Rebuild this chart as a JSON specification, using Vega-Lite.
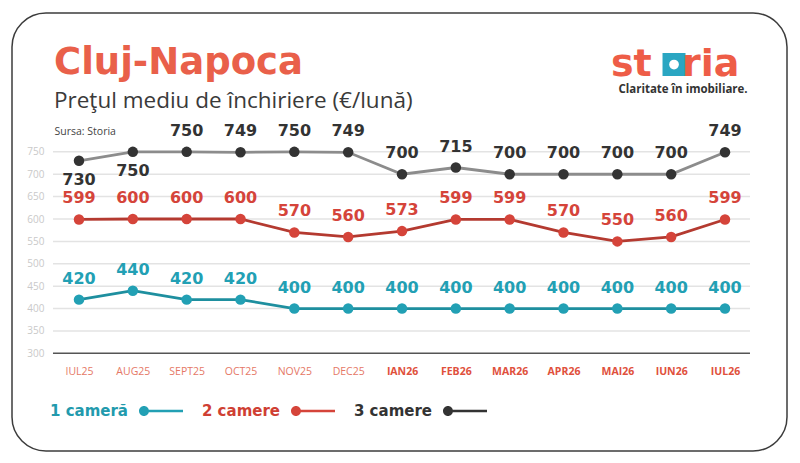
{
  "$schema": "https://vega.github.io/schema/vega-lite/v6.json",
  "width": 775,
  "height": 438,
  "autosize": {"type": "none"},
  "padding": {"left": 12, "top": 13, "right": 13, "bottom": 12},
  "background": "white",
  "title": {
    "text": "Cluj-Napoca",
    "subtitle": "Preţul mediu de închiriere (€/lună)",
    "anchor": "start",
    "frame": "group",
    "orient": "top",
    "offset": -100,
    "dx": 42,
    "font": "DejaVu Sans",
    "fontSize": 37,
    "fontWeight": "bold",
    "color": "#E9604A",
    "subtitleFont": "Open Sans",
    "subtitleFontSize": 22.5,
    "subtitleColor": "#3a3a3a",
    "subtitlePadding": 8
  },
  "datasets": {
    "prices": [
      {"luna": "IUL25", "serie": "1 cameră", "pret": 420},
      {"luna": "AUG25", "serie": "1 cameră", "pret": 440},
      {"luna": "SEPT25", "serie": "1 cameră", "pret": 420},
      {"luna": "OCT25", "serie": "1 cameră", "pret": 420},
      {"luna": "NOV25", "serie": "1 cameră", "pret": 400},
      {"luna": "DEC25", "serie": "1 cameră", "pret": 400},
      {"luna": "IAN26", "serie": "1 cameră", "pret": 400},
      {"luna": "FEB26", "serie": "1 cameră", "pret": 400},
      {"luna": "MAR26", "serie": "1 cameră", "pret": 400},
      {"luna": "APR26", "serie": "1 cameră", "pret": 400},
      {"luna": "MAI26", "serie": "1 cameră", "pret": 400},
      {"luna": "IUN26", "serie": "1 cameră", "pret": 400},
      {"luna": "IUL26", "serie": "1 cameră", "pret": 400},
      {"luna": "IUL25", "serie": "2 camere", "pret": 599},
      {"luna": "AUG25", "serie": "2 camere", "pret": 600},
      {"luna": "SEPT25", "serie": "2 camere", "pret": 600},
      {"luna": "OCT25", "serie": "2 camere", "pret": 600},
      {"luna": "NOV25", "serie": "2 camere", "pret": 570},
      {"luna": "DEC25", "serie": "2 camere", "pret": 560},
      {"luna": "IAN26", "serie": "2 camere", "pret": 573},
      {"luna": "FEB26", "serie": "2 camere", "pret": 599},
      {"luna": "MAR26", "serie": "2 camere", "pret": 599},
      {"luna": "APR26", "serie": "2 camere", "pret": 570},
      {"luna": "MAI26", "serie": "2 camere", "pret": 550},
      {"luna": "IUN26", "serie": "2 camere", "pret": 560},
      {"luna": "IUL26", "serie": "2 camere", "pret": 599},
      {"luna": "IUL25", "serie": "3 camere", "pret": 730},
      {"luna": "AUG25", "serie": "3 camere", "pret": 750},
      {"luna": "SEPT25", "serie": "3 camere", "pret": 750},
      {"luna": "OCT25", "serie": "3 camere", "pret": 749},
      {"luna": "NOV25", "serie": "3 camere", "pret": 750},
      {"luna": "DEC25", "serie": "3 camere", "pret": 749},
      {"luna": "IAN26", "serie": "3 camere", "pret": 700},
      {"luna": "FEB26", "serie": "3 camere", "pret": 715},
      {"luna": "MAR26", "serie": "3 camere", "pret": 700},
      {"luna": "APR26", "serie": "3 camere", "pret": 700},
      {"luna": "MAI26", "serie": "3 camere", "pret": 700},
      {"luna": "IUN26", "serie": "3 camere", "pret": 700},
      {"luna": "IUL26", "serie": "3 camere", "pret": 749}
    ],
    "grid": [
      {"v": 300}, {"v": 350}, {"v": 400}, {"v": 450}, {"v": 500},
      {"v": 550}, {"v": 600}, {"v": 650}, {"v": 700}, {"v": 750}
    ]
  },
  "layer": [
    {
      "layer": [
        {
          "data": {"name": "grid"},
          "mark": {"type": "rule", "strokeWidth": 1.5},
          "encoding": {
            "x": {"datum": 0, "type": "quantitative", "scale": {"domain": [-0.0588, 1.0531], "nice": false, "zero": false}, "axis": null},
            "x2": {"datum": 1},
            "y": {
              "field": "v",
              "type": "quantitative",
              "scale": {"domain": [82, 1060], "nice": false, "zero": false},
              "axis": {
                "values": [300, 350, 400, 450, 500, 550, 600, 650, 700, 750],
                "orient": "left",
                "offset": -38,
                "domain": false,
                "ticks": false,
                "grid": false,
                "labelColor": "#c9c9c9",
                "labelFontSize": 10,
                "labelPadding": 6,
                "labelFont": "Open Sans",
                "title": "Sursa: Storia",
                "titleAngle": 0,
                "titleAlign": "left",
                "titleBaseline": "middle",
                "titleX": 4,
                "titleY": 118,
                "titleFont": "Open Sans",
                "titleFontSize": 10.5,
                "titleFontWeight": "normal",
                "titleColor": "#444444"
              }
            },
            "color": {"condition": {"test": "datum.v === 300", "value": "#555555"}, "value": "#e3e3e3"}
          }
        },
        {
          "data": {"values": [{}]},
          "mark": {"type": "text", "text": "st", "align": "right", "baseline": "alphabetic", "font": "DejaVu Sans", "fontSize": 38, "fontWeight": "bold", "color": "#EE5D47"},
          "encoding": {
            "x": {"datum": 0.859, "type": "quantitative", "scale": {"domain": [-0.0588, 1.0531], "nice": false, "zero": false}, "axis": null},
            "y": {"datum": 919, "type": "quantitative"}
          }
        },
        {
          "data": {"values": [{}]},
          "mark": {"type": "point", "shape": "square", "filled": true, "size": 529, "color": "#2AA6C2", "opacity": 1},
          "encoding": {
            "x": {"datum": 0.891, "type": "quantitative", "scale": {"domain": [-0.0588, 1.0531], "nice": false, "zero": false}, "axis": null},
            "y": {"datum": 945, "type": "quantitative"}
          }
        },
        {
          "data": {"values": [{}]},
          "mark": {"type": "point", "shape": "circle", "filled": true, "size": 95, "color": "white", "opacity": 1},
          "encoding": {
            "x": {"datum": 0.891, "type": "quantitative", "scale": {"domain": [-0.0588, 1.0531], "nice": false, "zero": false}, "axis": null},
            "y": {"datum": 945, "type": "quantitative"}
          }
        },
        {
          "data": {"values": [{}]},
          "mark": {"type": "text", "text": "ria", "align": "left", "baseline": "alphabetic", "font": "DejaVu Sans", "fontSize": 38, "fontWeight": "bold", "color": "#EE5D47"},
          "encoding": {
            "x": {"datum": 0.9025, "type": "quantitative", "scale": {"domain": [-0.0588, 1.0531], "nice": false, "zero": false}, "axis": null},
            "y": {"datum": 919, "type": "quantitative"}
          }
        },
        {
          "data": {"values": [{}]},
          "mark": {"type": "text", "text": "Claritate în imobiliare.", "align": "center", "baseline": "middle", "font": "Open Sans", "fontSize": 11.5, "fontWeight": "bold", "color": "#333333"},
          "encoding": {
            "x": {"datum": 0.9039, "type": "quantitative", "scale": {"domain": [-0.0588, 1.0531], "nice": false, "zero": false}, "axis": null},
            "y": {"datum": 888, "type": "quantitative"}
          }
        }
      ]
    },
    {
      "data": {"name": "prices"},
      "encoding": {
        "x": {
          "field": "luna",
          "type": "ordinal",
          "sort": ["IUL25", "AUG25", "SEPT25", "OCT25", "NOV25", "DEC25", "IAN26", "FEB26", "MAR26", "APR26", "MAI26", "IUN26", "IUL26"],
          "scale": {"type": "point", "padding": 0, "range": [67, 713]},
          "axis": {
            "orient": "bottom",
            "offset": -97.7,
            "domain": false,
            "ticks": false,
            "grid": false,
            "labelAngle": 0,
            "labelPadding": 13,
            "labelFont": "Open Sans",
            "labelFontSize": 10.5,
            "labelColor": {"condition": {"test": "indexof(datum.label, '26') >= 0", "value": "#e0503c"}, "value": "#e57866"},
            "labelFontWeight": {"condition": {"test": "indexof(datum.label, '26') >= 0", "value": "bold"}, "value": "normal"},
            "title": null
          }
        },
        "y": {"field": "pret", "type": "quantitative", "scale": {"domain": [82, 1060], "nice": false, "zero": false}}
      },
      "layer": [
        {
          "mark": {"type": "line", "strokeWidth": 2.8},
          "encoding": {
            "detail": {"field": "serie"},
            "color": {
              "condition": [
                {"test": "datum.serie === '1 cameră'", "value": "#1e8f9f"},
                {"test": "datum.serie === '2 camere'", "value": "#b43a30"}
              ],
              "value": "#8c8c8c"
            }
          }
        },
        {
          "mark": {"type": "point", "filled": true, "size": 110, "opacity": 1},
          "encoding": {
            "color": {
              "field": "serie",
              "type": "nominal",
              "scale": {"domain": ["1 cameră", "2 camere", "3 camere"], "range": ["#22a0b4", "#d5443a", "#333333"]},
              "legend": {
                "orient": "none",
                "legendX": 127,
                "legendY": 376,
                "direction": "horizontal",
                "title": null,
                "symbolType": "M-1,0A0.227,0.227,0,1,1,-0.546,0A0.227,0.227,0,1,1,-1,0ZM-0.55,-0.059L1,-0.059L1,0.059L-0.55,0.059Z",
                "symbolSize": 1936,
                "symbolStrokeWidth": 0,
                "symbolOpacity": 1,
                "labelFont": "DejaVu Sans",
                "labelFontSize": 15,
                "labelFontWeight": "bold",
                "labelAlign": "right",
                "labelOffset": -55,
                "labelLimit": 200,
                "columnPadding": 18,
                "encode": {
                  "labels": {
                    "update": {
                      "fill": {"signal": "datum.value === '1 cameră' ? '#229aad' : datum.value === '2 camere' ? '#cf3f33' : '#333333'"}
                    }
                  }
                }
              }
            }
          }
        },
        {
          "transform": [{"filter": "!(datum.serie === '3 camere' && (datum.luna === 'IUL25' || datum.luna === 'AUG25'))"}],
          "mark": {"type": "text", "font": "DejaVu Sans", "fontSize": 16, "fontWeight": "bold", "baseline": "middle", "dy": -21},
          "encoding": {
            "text": {"field": "pret", "type": "quantitative"},
            "color": {"field": "serie", "type": "nominal"}
          }
        },
        {
          "transform": [{"filter": "datum.serie === '3 camere' && (datum.luna === 'IUL25' || datum.luna === 'AUG25')"}],
          "mark": {"type": "text", "font": "DejaVu Sans", "fontSize": 16, "fontWeight": "bold", "baseline": "middle", "dy": 19},
          "encoding": {
            "text": {"field": "pret", "type": "quantitative"},
            "color": {"field": "serie", "type": "nominal"}
          }
        }
      ]
    }
  ],
  "resolve": {"scale": {"x": "independent"}},
  "config": {
    "view": {"stroke": "#3c3c3c", "strokeWidth": 1.5, "cornerRadius": 34, "fill": "white"},
    "font": "Open Sans"
  }
}
